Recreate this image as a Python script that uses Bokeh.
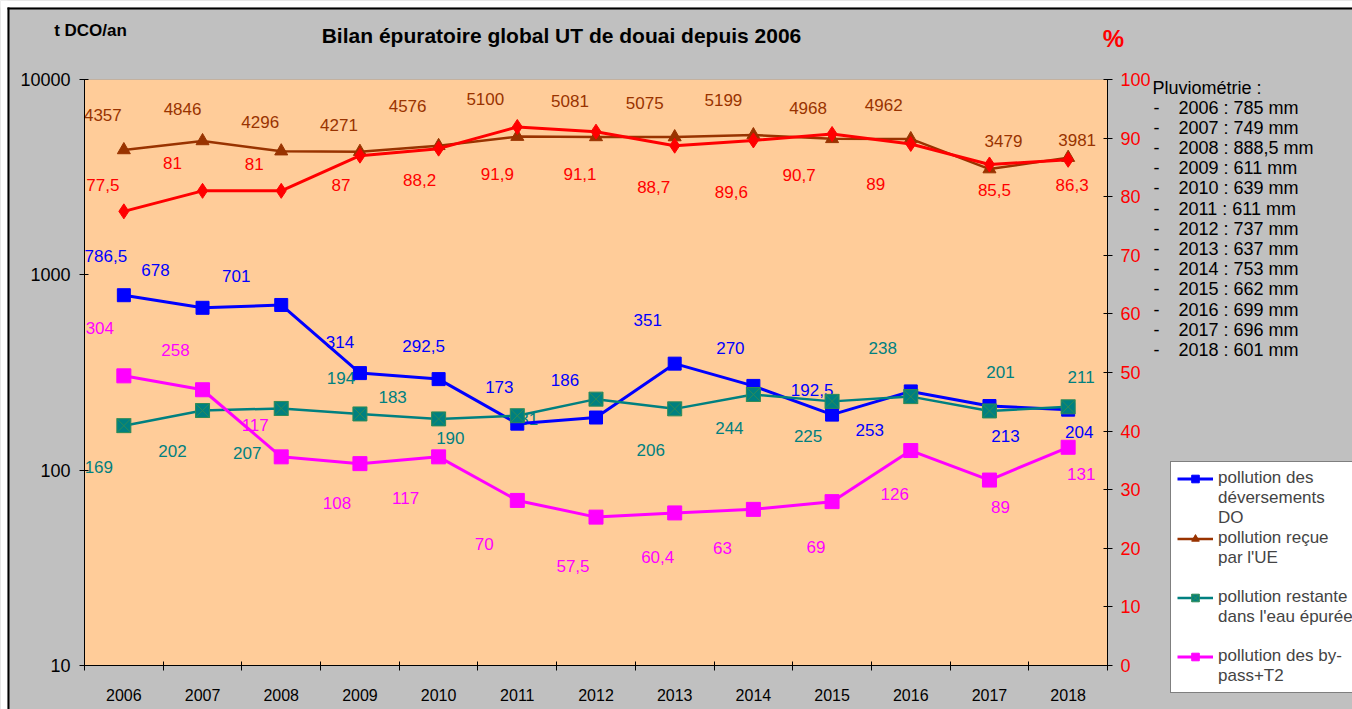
from bokeh.plotting import figure
from bokeh.models import (ColumnDataSource, Range1d, LinearAxis, LinearScale, FixedTicker,
                          PrintfTickFormatter, Legend, LegendItem, Label, BoxAnnotation)
from bokeh.core.properties import value
from bokeh.embed import file_html
from bokeh.resources import INLINE
import math

# ---------------- data ----------------
years = ["2006", "2007", "2008", "2009", "2010", "2011", "2012",
         "2013", "2014", "2015", "2016", "2017", "2018"]
do_vals = [786.5, 678, 701, 314, 292.5, 173, 186, 351, 270, 192.5, 253, 213, 204]
ue_vals = [4357, 4846, 4296, 4271, 4576, 5100, 5081, 5075, 5199, 4968, 4962, 3479, 3981]
rest_vals = [169, 202, 207, 194, 183, 190, 231, 206, 244, 225, 238, 201, 211]
bypass_vals = [304, 258, 117, 108, 117, 70, 57.5, 60.4, 63, 69, 126, 89, 131]
rend_pct = [77.5, 81, 81, 87, 88.2, 91.9, 91.1, 88.7, 89.6, 90.7, 89, 85.5, 86.3]
rain_mm = [785, 749, 888.5, 611, 639, 611, 737, 637, 753, 662, 699, 696, 601]

left_ticks = [10, 100, 1000, 10000]
right_ticks = [0, 10, 20, 30, 40, 50, 60, 70, 80, 90, 100]

legend_do = ["pollution des", "déversements", "DO"]
legend_ue = ["pollution reçue", "par l'UE", " "]
legend_rest = ["pollution restante", "dans l'eau épurée", " "]
legend_bp = ["pollution des by-", "pass+T2"]

# data-label pixel offsets (dx right, dy down)
ue_dx = [-21, -20, -21, -21, -31, -32, -26, -30, -30, -24, -27, 14, 9]
ue_dy = [-35, -32, -29, -27, -40, -38, -36, -34, -35, -31, -34, -28, -18]
pct_dx = [-21, -30, -27, -19, -19, -20, -16, -21, -22, -33, -35, 5, 4]
pct_dy = [-26, -28, -27, 29, 31, 47, 42, 41, 52, 41, 40, 26, 25]
do_dx = [-18, -47, -45, -20, -15, -18, -31, -27, -23, -20, -41, 16, 11]
do_dy = [-39, -38, -29, -31, -33, -37, -38, -44, -38, -25, 39, 30, 22]
rest_dx = [-25, -30, -34, -19, -46, -67, -72, -24, -24, -24, -28, 11, 13]
rest_dy = [41, 40, 45, -36, -22, 22, 20, 41, 34, 35, -49, -39, -30]
bp_dx = [-24, -27, -26, -23, -33, -33, -23, -17, -31, -16, -16, 11, 13]
bp_dy = [-48, -40, -32, 39, 41, 44, 49, 44, 39, 45, 43, 27, 27]

FONT = "Liberation Sans"
C_DO, C_UE, C_REST, C_BP, C_PCT = "#0000FF", "#993300", "#008080", "#FF00FF", "#FF0000"

# ---------------- layout (pixels) ----------------
W, H = 1352, 709
PL, PR, PT, PB = 84, 1107, 79, 665          # plot area edges
n = len(years)
X0, X1 = -0.5, n - 0.5
Y0, Y1 = 10, 10000
P0, P1 = 0, 100
xpp = (PR - PL) / (X1 - X0)
dec = (PB - PT) / (math.log10(Y1) - math.log10(Y0))
ppp = (PB - PT) / (P1 - P0)
x_range = Range1d(X0 - PL / xpp, X1 + (W - PR) / xpp)
y_range = Range1d(10 ** (math.log10(Y0) - (H - PB) / dec), 10 ** (math.log10(Y1) + PT / dec))
pct_range = Range1d(P0 - (H - PB) / ppp, P1 + PT / ppp)


def fr(v):
    return f"{v:g}".replace(".", ",")


xs = list(range(n))
src = ColumnDataSource(dict(
    x=xs, do=do_vals, ue=ue_vals, rest=rest_vals, bp=bypass_vals, pct=rend_pct,
    do_t=[fr(v) for v in do_vals], ue_t=[fr(v) for v in ue_vals],
    rest_t=[fr(v) for v in rest_vals], bp_t=[fr(v) for v in bypass_vals],
    pct_t=[fr(v) for v in rend_pct],
    ue_dx=ue_dx, ue_dy=ue_dy, pct_dx=pct_dx, pct_dy=pct_dy, do_dx=do_dx, do_dy=do_dy,
    rest_dx=rest_dx, rest_dy=rest_dy, bp_dx=bp_dx, bp_dy=bp_dy,
))

p = figure(width=W, height=H, min_border=0,
           x_range=x_range, y_range=y_range, y_axis_type="log",
           output_backend="svg", toolbar_location=None,
           background_fill_color="#C0C0C0", border_fill_color="#C0C0C0",
           outline_line_color=None)
p.extra_y_ranges = {"pct": pct_range}
p.extra_y_scales = {"pct": LinearScale()}
p.xgrid.visible = False
p.ygrid.visible = False

# white page margin + black frame line (top / left)
p.add_layout(BoxAnnotation(bottom=H - 7, bottom_units="screen", fill_color="white",
                           fill_alpha=1, line_color=None, level="underlay"))
p.add_layout(BoxAnnotation(right=7, right_units="screen", fill_color="white",
                           fill_alpha=1, line_color=None, level="underlay"))
p.add_layout(BoxAnnotation(bottom=H - 9, top=H - 7, left=7, bottom_units="screen",
                           top_units="screen", left_units="screen", fill_color="black",
                           fill_alpha=1, line_color=None, level="underlay"))
p.add_layout(BoxAnnotation(left=7, right=9, top=H - 7, left_units="screen", right_units="screen",
                           top_units="screen", fill_color="black",
                           fill_alpha=1, line_color=None, level="underlay"))
# plot area
p.add_layout(BoxAnnotation(left=X0, right=X1, bottom=Y0, top=Y1, fill_color="#FFCC99",
                           fill_alpha=1, line_color="#808080", line_width=1, level="underlay"))

# x axis
xa = p.xaxis[0]
xa.fixed_location = Y0
xa.bounds = (X0, X1)
xa.ticker = FixedTicker(ticks=xs, minor_ticks=[i - 0.5 for i in range(n + 1)])
xa.major_label_overrides = {i: y for i, y in enumerate(years)}
xa.major_tick_in = 0
xa.major_tick_out = 0
xa.minor_tick_in = 4
xa.minor_tick_out = 5
xa.minor_tick_line_color = "black"
xa.axis_line_color = "black"
xa.major_label_text_font = FONT
xa.major_label_text_font_size = "16px"
xa.major_label_text_color = "black"
xa.major_label_standoff = 18

# left axis
ya = p.yaxis[0]
ya.fixed_location = X0
ya.bounds = (Y0, Y1)
ya.ticker = FixedTicker(ticks=left_ticks, minor_ticks=[])
ya.formatter = PrintfTickFormatter(format="%d")
ya.major_tick_in = 4
ya.major_tick_out = 5
ya.minor_tick_line_color = None
ya.axis_line_color = "black"
ya.major_label_text_font = FONT
ya.major_label_text_font_size = "18px"
ya.major_label_text_color = "black"
ya.major_label_standoff = 9

# right axis
ra = LinearAxis(y_range_name="pct", ticker=FixedTicker(ticks=right_ticks, minor_ticks=[]))
ra.fixed_location = X1
ra.bounds = (P0, P1)
ra.major_tick_in = 4
ra.major_tick_out = 5
ra.minor_tick_line_color = None
ra.axis_line_color = "black"
ra.major_label_text_font = FONT
ra.major_label_text_font_size = "18px"
ra.major_label_text_color = C_PCT
ra.major_label_standoff = 8
p.add_layout(ra, "right")

# data labels (drawn under the lines)
lbl_common = dict(source=src, text_align="center", text_baseline="middle",
                  text_font=value(FONT), text_font_size="17px")
p.text(x="x", y="ue", text="ue_t", x_offset="ue_dx", y_offset="ue_dy", text_color=C_UE, **lbl_common)
p.text(x="x", y="pct", text="pct_t", x_offset="pct_dx", y_offset="pct_dy", text_color=C_PCT,
       y_range_name="pct", **lbl_common)
p.text(x="x", y="do", text="do_t", x_offset="do_dx", y_offset="do_dy", text_color=C_DO, **lbl_common)
p.text(x="x", y="rest", text="rest_t", x_offset="rest_dx", y_offset="rest_dy", text_color=C_REST, **lbl_common)
p.text(x="x", y="bp", text="bp_t", x_offset="bp_dx", y_offset="bp_dy", text_color=C_BP, **lbl_common)

# series
l_ue = p.line("x", "ue", source=src, line_color=C_UE, line_width=2.5)
s_ue = p.scatter("x", "ue", source=src, marker="triangle", size=13, fill_color=C_UE, line_color=C_UE)
l_pct = p.line("x", "pct", source=src, line_color=C_PCT, line_width=3, y_range_name="pct")
s_pct = p.scatter("x", "pct", source=src, marker="diamond", size=15, fill_color=C_PCT,
                  line_color=C_PCT, y_range_name="pct")
l_do = p.line("x", "do", source=src, line_color=C_DO, line_width=3)
s_do = p.scatter("x", "do", source=src, marker="square", size=13, fill_color=C_DO, line_color=C_DO)
l_rest = p.line("x", "rest", source=src, line_color=C_REST, line_width=2.5)
s_rest = p.scatter("x", "rest", source=src, marker="square_x", size=14, fill_color=C_REST,
                   line_color="#2E8B57", line_width=1)
l_bp = p.line("x", "bp", source=src, line_color=C_BP, line_width=3)
s_bp = p.scatter("x", "bp", source=src, marker="square", size=14, fill_color=C_BP, line_color=C_BP)

# legend: one row per text line, glyph on the first line of each entry
items = []
for lines, rends in [(legend_do, [l_do, s_do]), (legend_ue, [l_ue, s_ue]),
                     (legend_rest, [l_rest, s_rest]), (legend_bp, [l_bp, s_bp])]:
    for k, txt in enumerate(lines):
        items.append(LegendItem(label=value(txt), renderers=rends if k == 0 else []))

legend = Legend(items=items, location=(1170, 16))
legend.label_text_font = FONT
legend.label_text_font_size = "17px"
legend.label_text_line_height = 1.0
legend.label_height = 19
legend.glyph_width = 36
legend.glyph_height = 19
legend.label_standoff = 5
legend.padding = 6
legend.spacing = 0
legend.margin = 0
legend.border_line_color = "black"
legend.border_line_width = 1
legend.background_fill_color = "white"
legend.background_fill_alpha = 1
p.add_layout(legend)


# texts around the chart (screen units: x from left, y up from bottom)
def add_text(x, y, text, size, bold=False, color="black", align="center", baseline="middle", lh=1.2):
    p.add_layout(Label(x=x, y=y, x_units="screen", y_units="screen", text=text,
                       text_font=FONT, text_font_size=size,
                       text_font_style="bold" if bold else "normal",
                       text_align=align, text_baseline=baseline, text_line_height=lh,
                       text_color=color))


add_text(90, H - 30, "t DCO/an", "17px", bold=True)
add_text(561, H - 35, "Bilan épuratoire global UT de douai depuis 2006", "21px", bold=True)
add_text(1113, H - 38, "%", "24px", bold=True, color=C_PCT)
add_text(1152, H - 77, "Pluviométrie :", "18px", align="left", baseline="top")
add_text(1153, H - 97, "\n".join("-" for _ in years), "18px", align="left", baseline="top", lh=1.01)
add_text(1178, H - 97, "\n".join(f"{y} : {fr(m)} mm" for y, m in zip(years, rain_mm)), "18px",
         align="left", baseline="top", lh=1.01)

open("out.html", "w").write(file_html(p, INLINE))
